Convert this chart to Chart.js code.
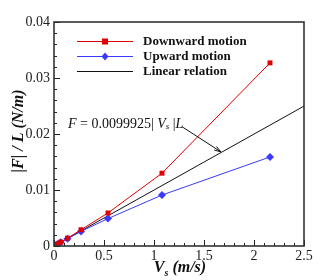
<!DOCTYPE html>
<html><head><meta charset="utf-8">
<script src="https://cdn.jsdelivr.net/npm/chart.js@4.4.1/dist/chart.umd.min.js"></script>
<style>html,body{margin:0;padding:0;background:#fff}#wrap{width:332px;height:280px;position:relative}</style>
</head><body><div id="wrap"><canvas id="c"></canvas></div>
<script>
const xValues = [0.034, 0.0675, 0.135, 0.27, 0.54, 1.08, 2.16];
const downward = [0.00035, 0.0007, 0.0014, 0.0029, 0.0059, 0.0130, 0.0327];
const upward = [0.00034, 0.00068, 0.0013, 0.0026, 0.0049, 0.0091, 0.0159];
const linearX = [0, 2.5];
const slope = 0.0099925;
const xTicks = [0, 0.5, 1, 1.5, 2, 2.5];
const yTicks = [0, 0.01, 0.02, 0.03, 0.04];
const legendLabels = ['Downward motion', 'Upward motion', 'Linear relation'];

const RED = '#e00000', BLUE = '#3a3aff', BLACK = '#111';
const serif = '"Liberation Serif", "Times New Roman", serif';

function pts(xs, ys){ return xs.map((x,i)=>({x:x, y:ys[i]})); }

const deco = {
  id: 'deco',
  afterDraw(chart){
    const ctx = chart.ctx, a = chart.chartArea;
    const xs = chart.scales.x, ys = chart.scales.y;
    ctx.save();
    ctx.strokeStyle = '#222'; ctx.lineWidth = 1;
    ctx.beginPath();
    for (let i = 0; i <= 25; i++) {
      const v = i * 0.1; const px = Math.round(xs.getPixelForValue(v)) + 0.5;
      const len = (i % 5 === 0) ? 6 : 3;
      ctx.moveTo(px, a.bottom); ctx.lineTo(px, a.bottom - len);
    }
    for (let i = 0; i <= 20; i++) {
      const v = i * 0.002; const py = Math.round(ys.getPixelForValue(v)) + 0.5;
      const len = (i % 5 === 0) ? 6 : 3;
      ctx.moveTo(a.left, py); ctx.lineTo(a.left + len, py);
    }
    ctx.stroke();
    ctx.strokeStyle = '#333'; ctx.lineWidth = 1.6;
    ctx.strokeRect(a.left, a.top, a.right - a.left, a.bottom - a.top);

    // legend
    const lx0 = 77, lx1 = 133, mx = 105, tx = 143;
    const rows = [41, 56, 71];
    const cols = [RED, BLUE, BLACK];
    rows.forEach((ry, i) => {
      ctx.strokeStyle = cols[i]; ctx.lineWidth = 1;
      ctx.beginPath(); ctx.moveTo(lx0, ry + 0.5); ctx.lineTo(lx1, ry + 0.5); ctx.stroke();
      ctx.fillStyle = cols[i];
      if (i === 0) { ctx.fillRect(mx - 3, ry - 3 + 0.5, 6, 6); }
      if (i === 1) { ctx.beginPath(); ctx.moveTo(mx, ry - 3.5); ctx.lineTo(mx + 3.5, ry + 0.5); ctx.lineTo(mx, ry + 4.5); ctx.lineTo(mx - 3.5, ry + 0.5); ctx.closePath(); ctx.fill(); }
      ctx.fillStyle = '#111'; ctx.font = 'bold 13px ' + serif; ctx.textBaseline = 'middle'; ctx.textAlign = 'left';
      ctx.fillText(legendLabels[i], tx, ry + 1);
    });

    // annotation text
    let x = xs.getPixelForValue(0.14), y = ys.getPixelForValue(0.0218);
    const segs = [
      ['italic 14px ', 'F', 0], ['14px ', ' = 0.0099925| ', 0], ['italic 14px ', 'V', 0],
      ['italic 9px ', 's', 3], ['14px ', ' |', 0], ['italic 14px ', 'L', 0]
    ];
    ctx.fillStyle = '#111'; ctx.textBaseline = 'middle'; ctx.textAlign = 'left';
    segs.forEach(s => { ctx.font = s[0] + serif; ctx.fillText(s[1], x, y + s[2]); x += ctx.measureText(s[1]).width; });
    // arrow
    const ax0 = xs.getPixelForValue(1.28), ay0 = ys.getPixelForValue(0.0213);
    const ax1 = xs.getPixelForValue(1.67), ay1 = ys.getPixelForValue(0.0168);
    ctx.strokeStyle = '#111'; ctx.lineWidth = 1;
    ctx.beginPath(); ctx.moveTo(ax0, ay0); ctx.lineTo(ax1, ay1); ctx.stroke();
    const ang = Math.atan2(ay1 - ay0, ax1 - ax0);
    ctx.beginPath();
    ctx.moveTo(ax1, ay1);
    ctx.lineTo(ax1 - 7 * Math.cos(ang - 0.3), ay1 - 7 * Math.sin(ang - 0.3));
    ctx.moveTo(ax1, ay1);
    ctx.lineTo(ax1 - 7 * Math.cos(ang + 0.3), ay1 - 7 * Math.sin(ang + 0.3));
    ctx.stroke();

    // x title
    ctx.fillStyle = '#111'; ctx.textBaseline = 'alphabetic'; ctx.textAlign = 'left';
    const xt = [['bold italic 16px ', 'V', 0], ['bold italic 10px ', 's', 4], ['bold italic 16px ', ' (m/s)', 0]];
    let w = 0; xt.forEach(s => { ctx.font = s[0] + serif; w += ctx.measureText(s[1]).width; });
    x = (a.left + a.right) / 2 - w / 2 + 1; y = 272;
    xt.forEach(s => { ctx.font = s[0] + serif; ctx.fillText(s[1], x, y + s[2]); x += ctx.measureText(s[1]).width; });

    // y title
    ctx.save();
    ctx.translate(23, (a.top + a.bottom) / 2 - 3);
    ctx.rotate(-Math.PI / 2);
    ctx.font = 'bold italic 16px ' + serif; ctx.textAlign = 'center'; ctx.textBaseline = 'alphabetic';
    ctx.fillText('|F| / L (N/m)', 0, 0);
    ctx.restore();
    ctx.restore();
  }
};

new Chart(document.getElementById('c'), {
  type: 'scatter',
  data: {
    datasets: [
      { label: legendLabels[0], data: pts(xValues, downward), showLine: true, borderColor: RED, backgroundColor: RED, borderWidth: 1, pointStyle: 'rect', pointRadius: 3.5, pointBorderWidth: 0 },
      { label: legendLabels[1], data: pts(xValues, upward), showLine: true, borderColor: BLUE, backgroundColor: BLUE, borderWidth: 1, pointStyle: 'rectRot', pointRadius: 4, pointBorderWidth: 0 },
      { label: legendLabels[2], data: pts(linearX, linearX.map(v => slope * v)), showLine: true, borderColor: BLACK, borderWidth: 1, pointRadius: 0 }
    ]
  },
  options: {
    responsive: true, maintainAspectRatio: false, animation: false,
    layout: { padding: { top: 22, right: 28, left: 0, bottom: 0 } },
    plugins: { legend: { display: false }, tooltip: { enabled: false } },
    scales: {
      x: {
        type: 'linear', min: 0, max: 2.5,
        afterBuildTicks(s){ s.ticks = xTicks.map(v => ({value: v})); },
        afterFit(s){ s.height = 34; },
        grid: { display: false, drawTicks: false },
        border: { display: false },
        ticks: { padding: 2, color: '#222', font: { family: serif, size: 14 }, maxRotation: 0,
          callback: v => String(v) }
      },
      y: {
        type: 'linear', min: 0, max: 0.04,
        afterBuildTicks(s){ s.ticks = yTicks.map(v => ({value: v})); },
        afterFit(s){ s.width = 54; },
        grid: { display: false, drawTicks: false },
        border: { display: false },
        ticks: { padding: 4, color: '#222', font: { family: serif, size: 14 },
          callback: v => String(Math.round(v * 100) / 100) }
      }
    }
  },
  plugins: [deco]
});
</script></body></html>
